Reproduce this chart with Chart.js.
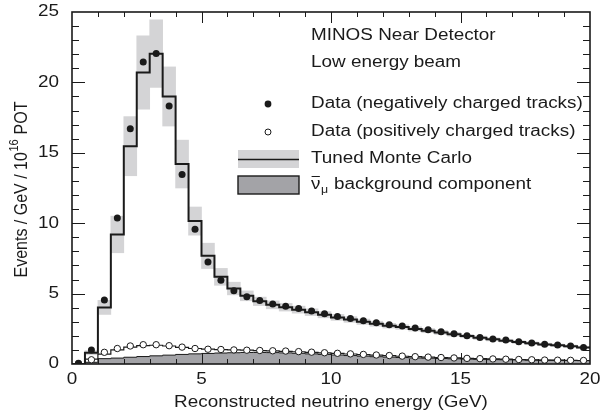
<!DOCTYPE html>
<html>
<head>
<meta charset="utf-8">
<script src="https://cdn.jsdelivr.net/npm/chart.js@4"></script>
<style>
  html, body { margin: 0; padding: 0; background: #fff; }
  #wrap { width: 604px; height: 420px; }
</style>
</head>
<body>
<div id="wrap"><canvas id="minos-nd-spectrum"></canvas></div>
<script>
// bin centres (GeV), 0.5 GeV bins from 0 to 20
const binCenters = [0.25, 0.75, 1.25, 1.75, 2.25, 2.75, 3.25, 3.75, 4.25, 4.75,
    5.25, 5.75, 6.25, 6.75, 7.25, 7.75, 8.25, 8.75, 9.25, 9.75,
    10.25, 10.75, 11.25, 11.75, 12.25, 12.75, 13.25, 13.75, 14.25, 14.75,
    15.25, 15.75, 16.25, 16.75, 17.25, 17.75, 18.25, 18.75, 19.25, 19.75];

// data, negatively charged tracks
const dataNeg = [0.05, 0.99, 4.54, 10.37, 16.7, 21.45, 22.06, 18.33, 13.45, 9.57,
    7.25, 5.95, 5.21, 4.77, 4.51, 4.27, 4.11, 3.94, 3.76, 3.57,
    3.38, 3.24, 3.07, 2.93, 2.79, 2.7, 2.55, 2.43, 2.29, 2.15,
    2.01, 1.89, 1.77, 1.7, 1.58, 1.49, 1.4, 1.35, 1.28, 1.18];

// data, positively charged tracks
const dataPos = [0.02, 0.3, 0.83, 1.1, 1.28, 1.37, 1.37, 1.3, 1.2, 1.1,
    1.05, 1.03, 1.0, 0.98, 0.96, 0.94, 0.92, 0.88, 0.84, 0.8,
    0.76, 0.72, 0.68, 0.64, 0.6, 0.56, 0.52, 0.49, 0.46, 0.43,
    0.4, 0.38, 0.36, 0.34, 0.32, 0.3, 0.28, 0.27, 0.26, 0.25];

// tuned MC, negative tracks, and its error band half-width
const mcNeg = [0, 0.8, 4.02, 9.2, 15.47, 20.7, 22.04, 19.0, 14.2, 10.15,
    7.68, 6.19, 5.36, 4.84, 4.45, 4.2, 4.03, 3.86, 3.68, 3.5,
    3.31, 3.16, 3.0, 2.86, 2.72, 2.62, 2.49, 2.37, 2.24, 2.11,
    1.98, 1.86, 1.75, 1.66, 1.56, 1.47, 1.39, 1.33, 1.26, 1.18];
const mcErr = [0, 0.15, 0.5, 1.3, 2.1, 2.6, 2.4, 2.1, 1.7, 1.0,
    0.9, 0.6, 0.45, 0.35, 0.3, 0.28, 0.27, 0.25, 0.24, 0.22,
    0.21, 0.2, 0.19, 0.18, 0.17, 0.16, 0.15, 0.15, 0.14, 0.13,
    0.12, 0.12, 0.11, 0.1, 0.1, 0.1, 0.09, 0.09, 0.09, 0.08];

// tuned MC, positive tracks
const mcPos = [0, 0.35, 0.7, 1.0, 1.2, 1.3, 1.33, 1.28, 1.18, 1.1,
    1.05, 1.02, 1.0, 0.98, 0.95, 0.93, 0.9, 0.87, 0.83, 0.79,
    0.75, 0.71, 0.67, 0.63, 0.59, 0.55, 0.52, 0.49, 0.46, 0.43,
    0.4, 0.38, 0.36, 0.34, 0.32, 0.3, 0.28, 0.27, 0.26, 0.25];

// anti-numu background component
const bgNuBar = [0, 0.12, 0.38, 0.42, 0.48, 0.53, 0.58, 0.63, 0.68, 0.72,
    0.75, 0.78, 0.8, 0.82, 0.82, 0.81, 0.79, 0.76, 0.72, 0.68,
    0.64, 0.6, 0.56, 0.52, 0.49, 0.46, 0.43, 0.41, 0.39, 0.37,
    0.35, 0.33, 0.31, 0.3, 0.29, 0.28, 0.27, 0.26, 0.25, 0.24];

const xTicks = [0, 5, 10, 15, 20];
const yTicks = [0, 5, 10, 15, 20, 25];

const FONT = "'Liberation Sans', Arial, Helvetica, sans-serif";
const INK = '#1a1a1a';
const SX = 1.18; // the reference lettering is a little wider than tall

// turn bin contents into a step outline: a point at every low edge + closing point at 20
function steps(values) {
    const pts = binCenters.map((c, i) => ({ x: c - 0.25, y: values[i] }));
    pts.push({ x: binCenters[binCenters.length - 1] + 0.25, y: values[values.length - 1] });
    return pts;
}
function points(values) {
    return binCenters.map((c, i) => ({ x: c, y: values[i] }));
}

// draw text stretched horizontally
function wideText(ctx, str, x, y, align, size) {
    ctx.save();
    ctx.font = `${size}px ${FONT}`;
    const w = ctx.measureText(str).width * SX;
    let left = x;
    if (align === 'center') left = x - w / 2;
    if (align === 'right') left = x - w;
    ctx.translate(left, y);
    ctx.scale(SX, 1);
    ctx.textAlign = 'left';
    ctx.fillText(str, 0, 0);
    ctx.restore();
}

const framePlugin = {
    id: 'frame',
    afterDatasetsDraw(chart) {
        const { ctx, chartArea: a, scales: { x, y } } = chart;
        ctx.save();
        ctx.strokeStyle = INK;
        ctx.lineWidth = 1;
        ctx.beginPath();
        for (let v = 1; v < 20; v++) {
            const px = Math.round(x.getPixelForValue(v)) + 0.5;
            const len = v % 5 === 0 ? 11 : 5;
            ctx.moveTo(px, a.bottom); ctx.lineTo(px, a.bottom - len);
            ctx.moveTo(px, a.top); ctx.lineTo(px, a.top + len);
        }
        for (let v = 1; v < 25; v++) {
            const py = Math.round(y.getPixelForValue(v)) + 0.5;
            const len = v % 5 === 0 ? 13 : 7;
            ctx.moveTo(a.left, py); ctx.lineTo(a.left + len, py);
            ctx.moveTo(a.right, py); ctx.lineTo(a.right - len, py);
        }
        ctx.stroke();
        ctx.lineWidth = 1.6;
        ctx.strokeRect(a.left, a.top, a.right - a.left, a.bottom - a.top);
        ctx.restore();
    },
    afterDraw(chart) {
        const { ctx, scales: { x, y } } = chart;
        ctx.save();
        ctx.fillStyle = INK;
        ctx.textBaseline = 'middle';

        // tick labels
        xTicks.forEach(v => wideText(ctx, String(v), x.getPixelForValue(v), 380, 'center', 16));
        yTicks.forEach(v => wideText(ctx, String(v), 59, y.getPixelForValue(v), 'right', 16));

        // x title
        wideText(ctx, 'Reconstructed neutrino energy (GeV)', 331, 403, 'center', 16);

        // y title with superscript
        ctx.save();
        ctx.translate(22, 190);
        ctx.scale(SX, 1);
        ctx.rotate(-Math.PI / 2);
        ctx.textAlign = 'left';
        const p1 = 'Events / GeV / 10', sup = '16', p2 = ' POT';
        ctx.font = `16px ${FONT}`;
        const w1 = ctx.measureText(p1).width, w3 = ctx.measureText(p2).width;
        ctx.font = `11px ${FONT}`;
        const w2 = ctx.measureText(sup).width;
        const sx = -(w1 + w2 + w3) / 2;
        ctx.font = `16px ${FONT}`;
        ctx.fillText(p1, sx, 0);
        ctx.font = `11px ${FONT}`;
        ctx.fillText(sup, sx + w1 + 0.5, -6);
        ctx.font = `16px ${FONT}`;
        ctx.fillText(p2, sx + w1 + w2 + 1, 0);
        ctx.restore();

        // legend symbols
        ctx.beginPath();
        ctx.arc(268, 104, 3.4, 0, Math.PI * 2);
        ctx.fill();
        ctx.beginPath();
        ctx.arc(268, 132, 3, 0, Math.PI * 2);
        ctx.fillStyle = '#fff';
        ctx.fill();
        ctx.strokeStyle = INK;
        ctx.lineWidth = 1;
        ctx.stroke();

        ctx.fillStyle = '#d4d4d6';
        ctx.fillRect(238, 150, 61, 18);
        ctx.beginPath();
        ctx.moveTo(238, 159.5); ctx.lineTo(299, 159.5);
        ctx.lineWidth = 1.6;
        ctx.stroke();

        ctx.fillStyle = '#a3a3a7';
        ctx.fillRect(238, 176, 61, 18);
        ctx.lineWidth = 1.4;
        ctx.strokeRect(238, 176, 61, 18);

        // legend text
        ctx.fillStyle = INK;
        const tx = 311;
        wideText(ctx, 'MINOS Near Detector', tx, 36, 'left', 16);
        wideText(ctx, 'Low energy beam', tx, 63, 'left', 16);
        wideText(ctx, 'Data (negatively charged tracks)', tx, 104, 'left', 16);
        wideText(ctx, 'Data (positively charged tracks)', tx, 132, 'left', 16);
        wideText(ctx, 'Tuned Monte Carlo', tx, 159, 'left', 16);

        // nu-bar_mu label
        ctx.save();
        ctx.translate(tx, 185);
        ctx.scale(SX, 1);
        ctx.textAlign = 'left';
        ctx.font = `16px ${FONT}`;
        const wNu = ctx.measureText('\u03bd').width;
        ctx.fillText('\u03bd', 0, 0);
        ctx.beginPath();
        ctx.moveTo(0.5, -8.5); ctx.lineTo(wNu - 0.5, -8.5);
        ctx.lineWidth = 1;
        ctx.stroke();
        ctx.font = `10.5px ${FONT}`;
        const wMu = ctx.measureText('\u03bc').width;
        ctx.fillText('\u03bc', wNu + 0.5, 5);
        ctx.font = `16px ${FONT}`;
        ctx.fillText(' background component', wNu + wMu + 1, 0);
        ctx.restore();

        ctx.restore();
    }
};

const ctx = document.getElementById('minos-nd-spectrum').getContext('2d');
const spectrumChart = new Chart(ctx, {
    type: 'line',
    data: {
        datasets: [{
            // MC systematic band
            type: 'bar',
            data: binCenters.map((c, i) => ({ x: c, y: [mcNeg[i] - mcErr[i], mcNeg[i] + mcErr[i]] })),
            backgroundColor: '#d4d4d6',
            borderWidth: 0,
            barPercentage: 1,
            categoryPercentage: 1,
            grouped: false,
            order: 6
        }, {
            // anti-numu background, filled
            data: steps(bgNuBar),
            stepped: true,
            fill: 'origin',
            backgroundColor: '#a3a3a7',
            borderColor: INK,
            borderWidth: 1,
            pointRadius: 0,
            order: 5
        }, {
            data: steps(mcPos),
            stepped: true,
            borderColor: INK,
            borderWidth: 1.2,
            pointRadius: 0,
            order: 4
        }, {
            data: steps(mcNeg),
            stepped: true,
            borderColor: INK,
            borderWidth: 2,
            pointRadius: 0,
            order: 3
        }, {
            data: points(dataPos),
            showLine: false,
            pointRadius: 3.2,
            pointBackgroundColor: '#fff',
            pointBorderColor: INK,
            pointBorderWidth: 1,
            order: 2
        }, {
            data: points(dataNeg),
            showLine: false,
            pointRadius: 3.5,
            pointBackgroundColor: INK,
            pointBorderColor: INK,
            pointBorderWidth: 0,
            order: 1
        }]
    },
    options: {
        responsive: true,
        maintainAspectRatio: false,
        animation: false,
        layout: {
            padding: { top: 12, right: 14, left: 0, bottom: 0 }
        },
        plugins: {
            legend: { display: false },
            tooltip: { enabled: false }
        },
        scales: {
            x: {
                type: 'linear',
                min: 0,
                max: 20,
                offset: false,
                grid: { display: false, drawTicks: false },
                border: { display: false },
                afterFit: scale => { scale.height = 56; },
                ticks: { display: false, stepSize: 5 }
            },
            y: {
                min: 0,
                max: 25,
                grid: { display: false, drawTicks: false },
                border: { display: false },
                afterFit: scale => { scale.width = 72; },
                ticks: { display: false, stepSize: 5 }
            }
        }
    },
    plugins: [framePlugin]
});
</script>
</body>
</html>
